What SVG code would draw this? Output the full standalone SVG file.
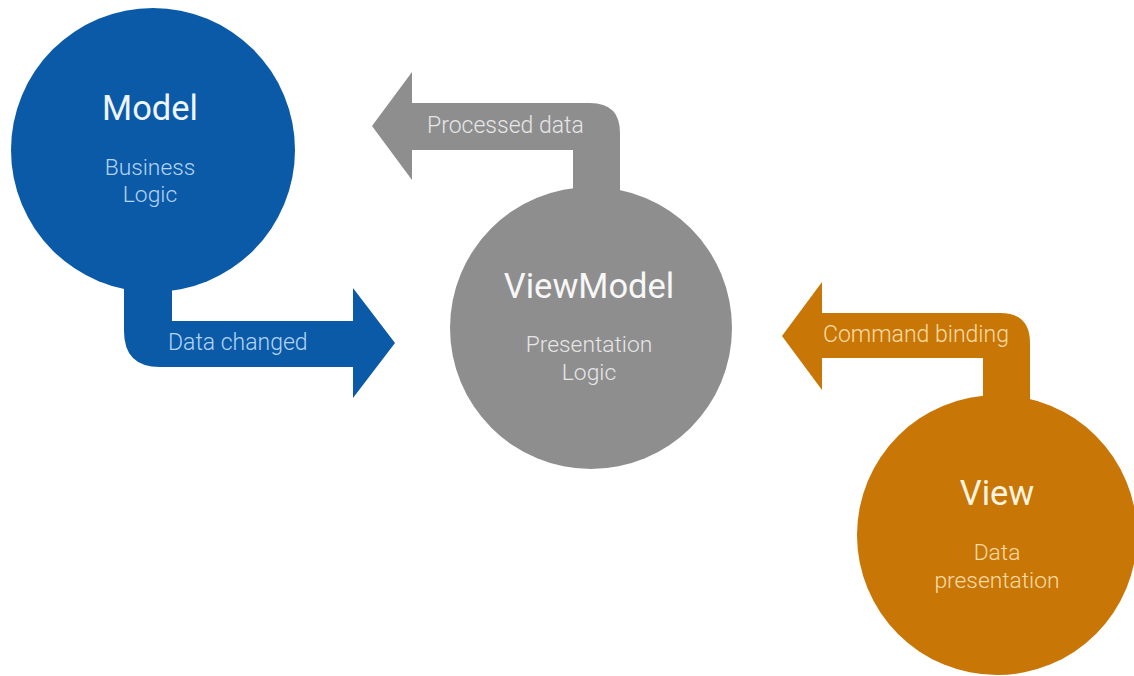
<svg xmlns="http://www.w3.org/2000/svg" width="1134" height="676" viewBox="0 0 1134 676">
<style>
.t{font-family:Roboto,"Liberation Sans",sans-serif;text-anchor:middle}
.h{font-size:34.5px}
.s{font-size:22.8px;font-weight:300}
.l{font-family:Roboto,"Liberation Sans",sans-serif;font-size:23px;font-weight:300}
.blue{fill:#0b5aa7}
.gray{fill:#8e8e8e}
.orange{fill:#c87605}
</style>
<rect width="1134" height="676" fill="#ffffff"/>
<g id="connectors">
  <g id="data-changed">
    <path class="blue" d="M124,270 L172,270 L172,321 L353,321 L353,288 L395,343 L353,398 L353,367 L160,367 Q124,367 124,331 Z"/>
    <text class="l" x="168" y="350" fill="#b3d4f5">Data changed</text>
  </g>
  <g id="processed-data">
    <path class="gray" d="M620,205 L620,133 Q620,103 590,103 L412,103 L412,72 L372,126 L412,180 L412,150 L573,150 L573,205 Z"/>
    <text class="l" x="427" y="133" fill="#e6e6e6">Processed data</text>
  </g>
  <g id="command-binding">
    <path class="orange" d="M1030,415 L1030,343 Q1030,313 1000,313 L822,313 L822,282 L782,336 L822,390 L822,358 L983,358 L983,415 Z"/>
    <text class="l" x="823" y="342" fill="#fbdca6">Command binding</text>
  </g>
</g>
<g id="model">
  <circle class="blue" cx="153" cy="150" r="142"/>
  <text class="t h" x="150" y="120" fill="#eef5ff">Model</text>
  <text class="t s" x="150" y="175" fill="#b3d4f5">Business</text>
  <text class="t s" x="150" y="202" fill="#b3d4f5">Logic</text>
</g>
<g id="viewmodel">
  <circle class="gray" cx="591" cy="328" r="141"/>
  <text class="t h" x="589" y="298" fill="#f7f7f7">ViewModel</text>
  <text class="t s" x="589" y="352" fill="#e6e6e6">Presentation</text>
  <text class="t s" x="589" y="380" fill="#e6e6e6">Logic</text>
</g>
<g id="view">
  <circle class="orange" cx="997" cy="535" r="140"/>
  <text class="t h" x="997" y="505" fill="#fff4e0">View</text>
  <text class="t s" x="997" y="560" fill="#fbdca6">Data</text>
  <text class="t s" x="997" y="588" fill="#fbdca6">presentation</text>
</g>
</svg>
